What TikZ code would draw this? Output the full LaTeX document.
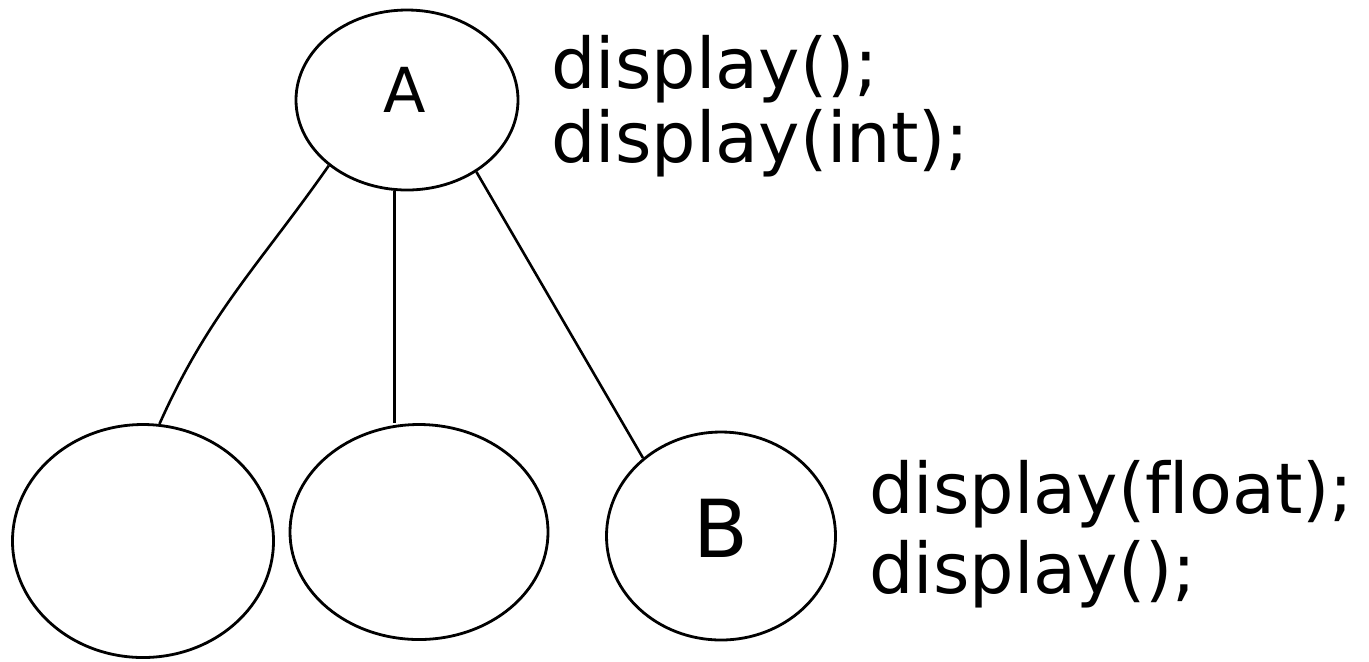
\documentclass[tikz,border=0pt]{standalone}
\usepackage{fontspec}
\setmainfont[Ligatures=NoCommon]{DejaVu Sans}
\usetikzlibrary{shapes.geometric}
\begin{document}
\begin{tikzpicture}[x=0.5pt,y=-0.5pt,line width=1.4pt,
  blob/.style={draw,ellipse,inner sep=0pt},
  code/.style={anchor=base west,inner sep=0pt,font=\fontsize{35}{40}\selectfont},
  edge/.style={draw,line width=1.3pt}]
\useasboundingbox (0,0) rectangle (1369,661);
\node[blob,minimum width=111pt,minimum height=90pt] (A) at (407,100) {};
\node[font=\fontsize{31}{36}\selectfont] (Alab) at (405,90) {A};
\node[blob,minimum width=130.5pt,minimum height=116.5pt] (L) at (143,541) {};
\node[blob,minimum width=129pt,minimum height=107.5pt] (M) at (419,532) {};
\node[blob,minimum width=114.5pt,minimum height=104pt] (B) at (721,536) {};
\node[font=\fontsize{40}{46}\selectfont] (Blab) at (721,528) {B};
\node[code] (t1) at (550,88) {display();};
\node[code] (t2) at (550,162) {display(int);};
\node[code] (t3) at (868,513) {display(f\kern0pt loat);};
\node[code] (t4) at (868,593) {display();};
\draw[edge] (A.220) to[out=235,in=66] (L.82);
\draw[edge] (A.262) -- (A.262 |- M.north);
\draw[edge] (A.-46) -- (B.135);
\end{tikzpicture}
\end{document}
